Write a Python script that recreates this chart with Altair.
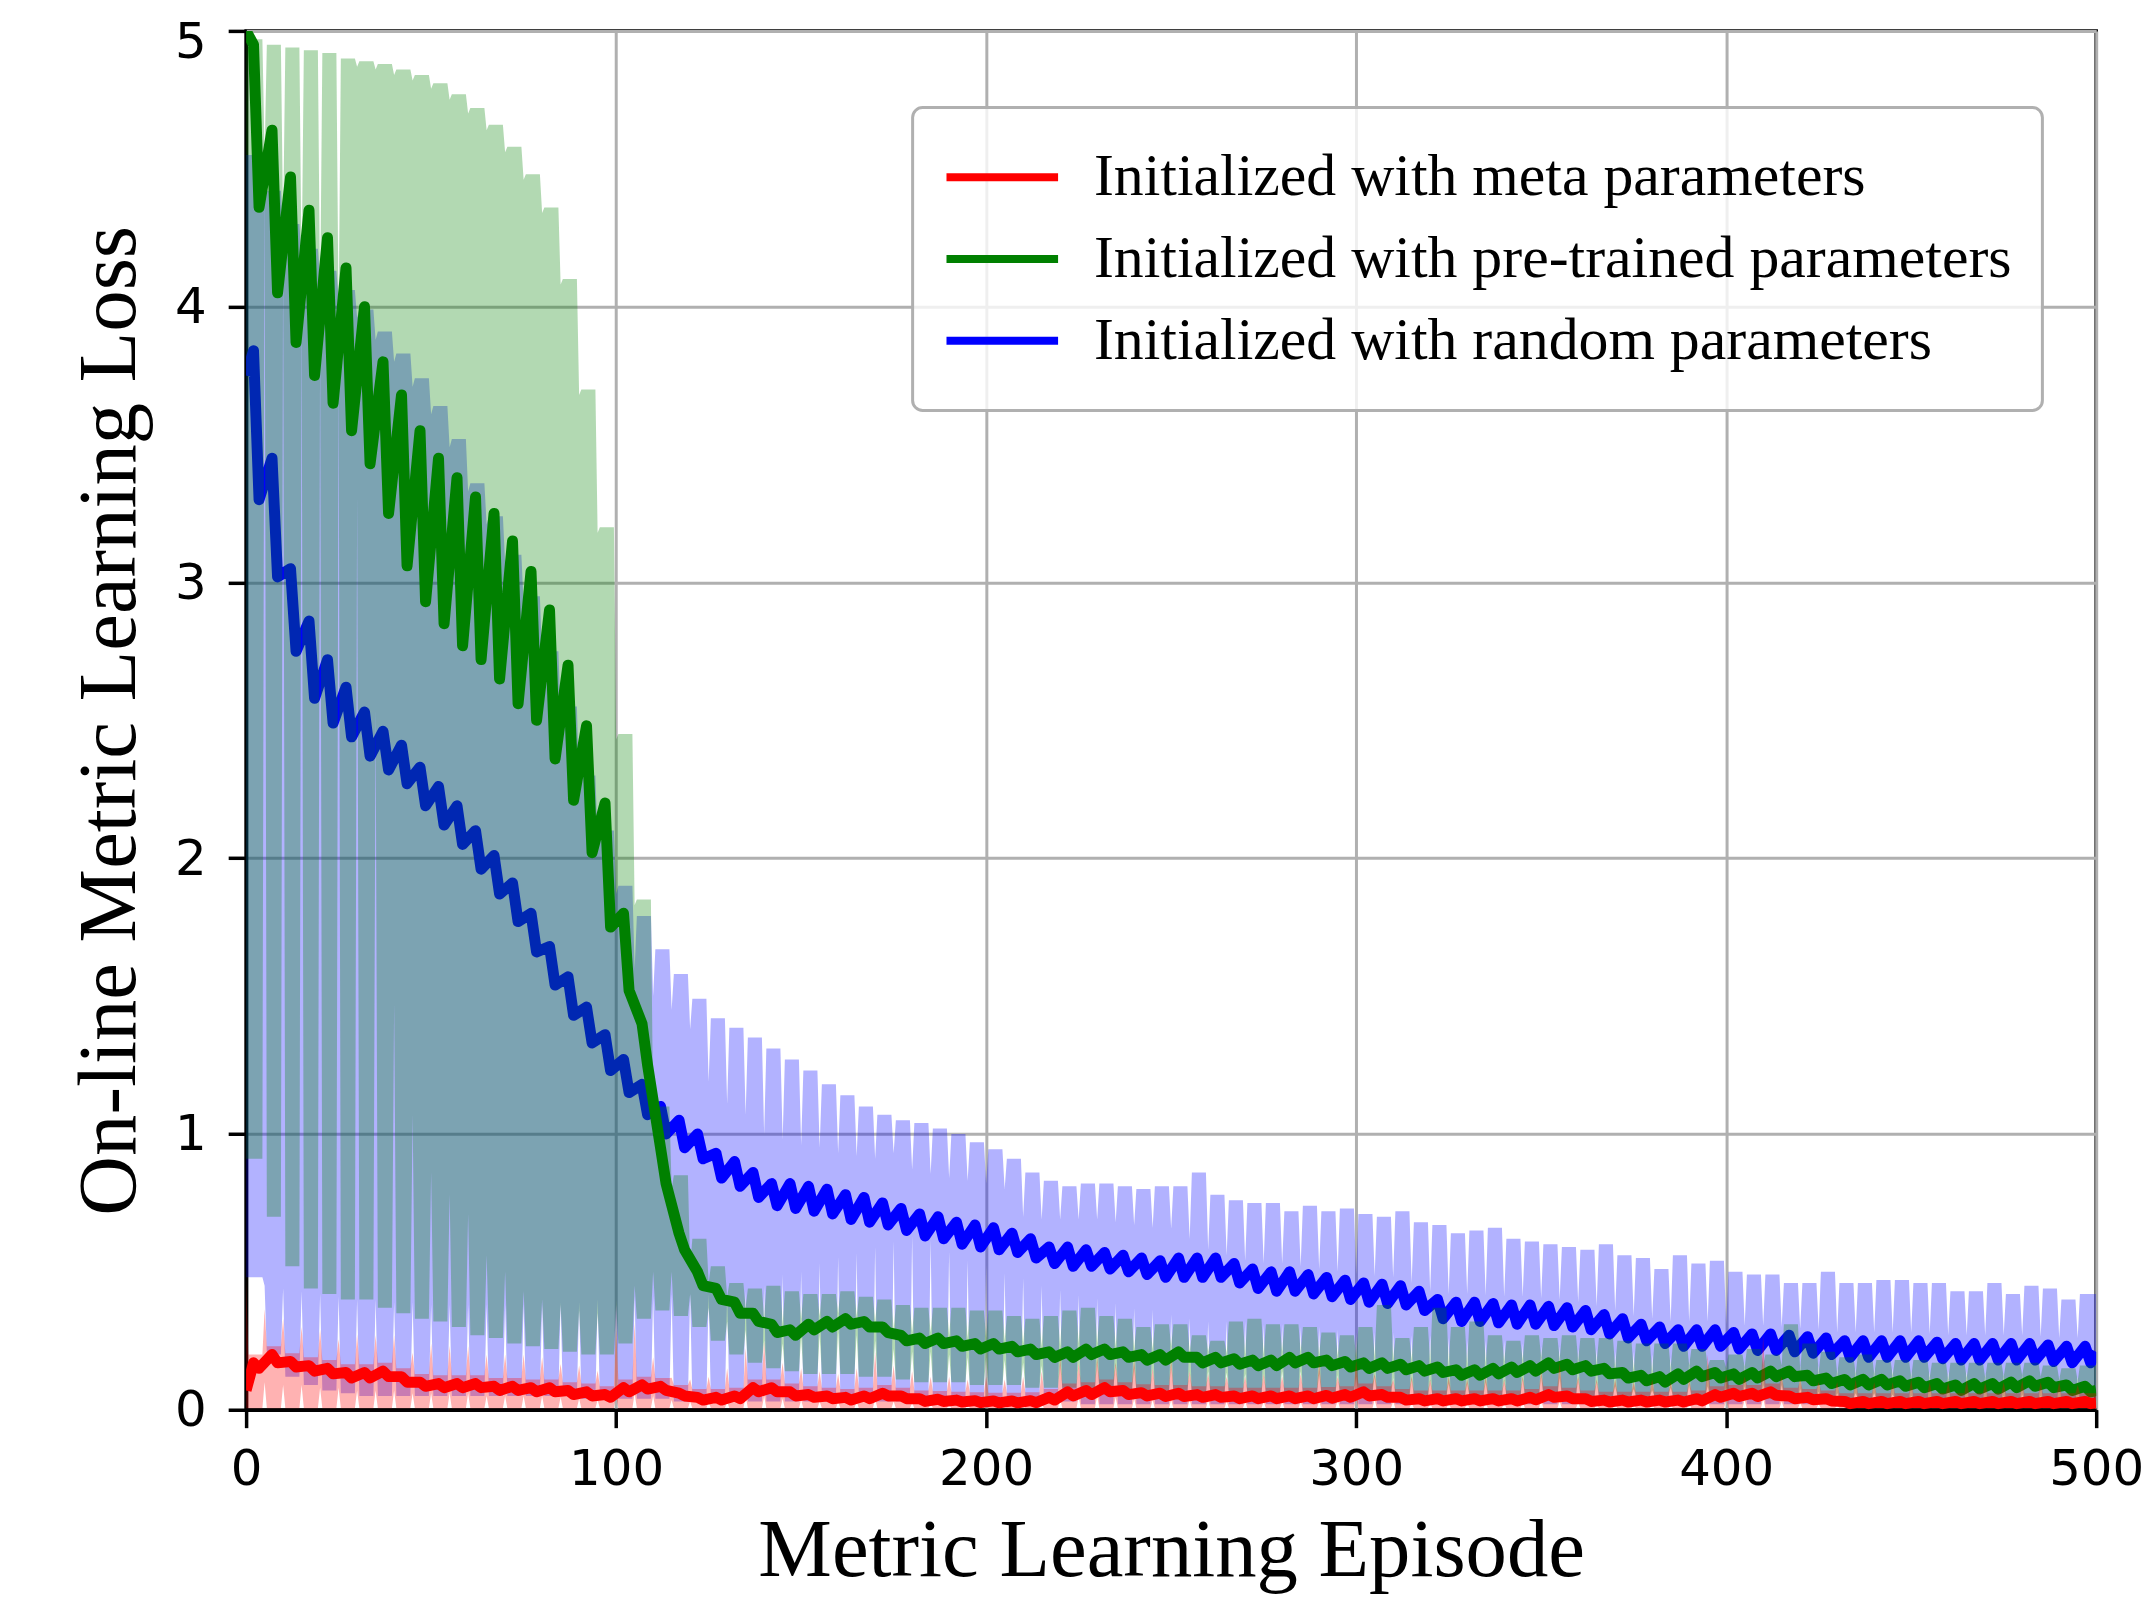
import altair as alt
import pandas as pd

SERIES = ["Initialized with meta parameters",
          "Initialized with pre-trained parameters",
          "Initialized with random parameters"]
COLORS = ["#ff0000", "#008000", "#0000ff"]
X_TICKS = [0, 100, 200, 300, 400, 500]
Y_TICKS = [0, 1, 2, 3, 4, 5]

# Per 5-episode block k: mean peak (ep 5k+2), mean trough (ep 5k+3.5),
# band edge outside the notch (up/lo) and at the notch episode 5k (upn/lon).
BLUE_START, BLUE_END = 3.75, 0.21
BLUE_PK = [3.84, 3.45, 3.05, 2.86, 2.72, 2.62, 2.53, 2.46, 2.41, 2.33,
           2.26, 2.19, 2.10, 2.01, 1.91, 1.80, 1.68, 1.57, 1.46, 1.36,
           1.27, 1.18, 1.10, 1.05, 1.00, 0.93, 0.90, 0.86, 0.82, 0.82,
           0.81, 0.80, 0.78, 0.77, 0.75, 0.73, 0.71, 0.70, 0.68, 0.67,
           0.66, 0.64, 0.62, 0.59, 0.59, 0.58, 0.57, 0.56, 0.55, 0.54,
           0.55, 0.55, 0.55, 0.53, 0.51, 0.50, 0.50, 0.49, 0.48, 0.47,
           0.46, 0.455, 0.45, 0.43, 0.40, 0.39, 0.39, 0.385, 0.38, 0.38,
           0.375, 0.37, 0.36, 0.345, 0.33, 0.31, 0.30, 0.29, 0.29, 0.29,
           0.28, 0.275, 0.275, 0.27, 0.265, 0.26, 0.25, 0.25, 0.25, 0.25,
           0.25, 0.245, 0.24, 0.24, 0.24, 0.24, 0.24, 0.235, 0.23, 0.23]
BLUE_TR = [3.30, 3.02, 2.75, 2.58, 2.49, 2.44, 2.37, 2.32, 2.27, 2.19,
           2.12, 2.05, 1.96, 1.87, 1.77, 1.66, 1.54, 1.43, 1.33, 1.23,
           1.15, 1.07, 1.00, 0.95, 0.91, 0.84, 0.81, 0.77, 0.74, 0.73,
           0.72, 0.71, 0.69, 0.68, 0.67, 0.65, 0.63, 0.62, 0.60, 0.59,
           0.58, 0.57, 0.55, 0.53, 0.52, 0.52, 0.51, 0.50, 0.49, 0.48,
           0.48, 0.48, 0.48, 0.46, 0.44, 0.43, 0.43, 0.42, 0.41, 0.40,
           0.39, 0.385, 0.38, 0.36, 0.33, 0.32, 0.32, 0.315, 0.31, 0.31,
           0.305, 0.30, 0.29, 0.275, 0.26, 0.25, 0.24, 0.23, 0.23, 0.23,
           0.22, 0.215, 0.215, 0.21, 0.205, 0.20, 0.19, 0.19, 0.19, 0.19,
           0.19, 0.185, 0.18, 0.18, 0.18, 0.18, 0.18, 0.175, 0.17, 0.17]
BLUE_UP = [4.55, 4.42, 4.30, 4.21, 4.13, 4.06, 3.99, 3.91, 3.83, 3.74,
           3.64, 3.52, 3.36, 3.24, 3.10, 2.95, 2.75, 2.55, 2.30, 2.10,
           1.90, 1.79, 1.67, 1.58, 1.49, 1.42, 1.385, 1.35, 1.31, 1.27,
           1.23, 1.18, 1.14, 1.10, 1.07, 1.05, 1.04, 1.02, 1.00, 0.97,
           0.945, 0.91, 0.86, 0.83, 0.81, 0.82, 0.82, 0.81, 0.80, 0.81,
           0.81, 0.86, 0.78, 0.76, 0.75, 0.75, 0.72, 0.74, 0.72, 0.73,
           0.71, 0.70, 0.72, 0.68, 0.67, 0.64, 0.65, 0.66, 0.62, 0.61,
           0.60, 0.59, 0.58, 0.60, 0.56, 0.55, 0.51, 0.56, 0.53, 0.54,
           0.50, 0.49, 0.49, 0.46, 0.46, 0.50, 0.46, 0.46, 0.47, 0.47,
           0.46, 0.46, 0.43, 0.43, 0.46, 0.42, 0.45, 0.44, 0.40, 0.42]
BLUE_UPN = [4.55, 4.39, 4.27, 4.18, 4.10, 4.03, 3.96, 3.88, 3.80, 3.71,
            3.61, 3.49, 3.33, 3.21, 3.07, 2.92, 2.72, 2.52, 2.27, 2.07,
            1.87, 1.60, 1.50, 1.45, 1.38, 1.19, 1.11, 1.07, 1.00, 0.98,
            0.96, 0.95, 0.93, 0.92, 0.91, 0.93, 0.87, 0.856, 0.84, 0.83,
            0.82, 0.80, 0.70, 0.69, 0.69, 0.69, 0.69, 0.68, 0.67, 0.66,
            0.656, 0.62, 0.58, 0.56, 0.54, 0.53, 0.53, 0.52, 0.51, 0.50,
            0.49, 0.485, 0.48, 0.46, 0.43, 0.42, 0.42, 0.415, 0.41, 0.41,
            0.405, 0.40, 0.39, 0.375, 0.36, 0.34, 0.33, 0.32, 0.32, 0.32,
            0.31, 0.305, 0.305, 0.30, 0.295, 0.29, 0.28, 0.28, 0.28, 0.28,
            0.28, 0.275, 0.27, 0.27, 0.27, 0.27, 0.27, 0.265, 0.26, 0.26]
BLUE_LO = [0.48, 0.20, 0.12, 0.09, 0.07, 0.06, 0.05, 0.05, 0.05, 0.05,
           0.05, 0.05, 0.05, 0.05, 0.05, 0.05, 0.05, 0.05, 0.04, 0.04,
           0.04, 0.04, 0.04, 0.03, 0.03, 0.03, 0.03, 0.03, 0.03, 0.03,
           0.03, 0.03, 0.03, 0.03, 0.03, 0.03, 0.03, 0.03, 0.03, 0.03,
           0.03, 0.03, 0.03, 0.03, 0.03, 0.02, 0.02, 0.02, 0.02, 0.02,
           0.02, 0.02, 0.02, 0.02, 0.02, 0.02, 0.02, 0.02, 0.02, 0.02,
           0.02, 0.02, 0.02, 0.02, 0.02, 0.02, 0.02, 0.02, 0.02, 0.02,
           0.02, 0.02, 0.02, 0.02, 0.02, 0.02, 0.02, 0.02, 0.02, 0.02,
           0.02, 0.02, 0.02, 0.02, 0.02, 0.02, 0.02, 0.02, 0.02, 0.02,
           0.02, 0.02, 0.02, 0.02, 0.02, 0.02, 0.02, 0.02, 0.02, 0.02]
BLUE_LON = [0.48, 0.45, 0.44, 0.43, 0.42, 0.41, 0.40, 0.40, 0.39, 0.39,
            0.38, 0.38, 0.38, 0.38, 0.38, 0.38, 0.38, 0.39, 0.39, 0.40,
            0.40, 0.41, 0.41, 0.42, 0.42, 0.42, 0.42, 0.43, 0.45, 0.49,
            0.50, 0.53, 0.555, 0.567, 0.59, 0.61, 0.63, 0.615, 0.573, 0.54,
            0.525, 0.495, 0.476, 0.45, 0.434, 0.416, 0.404, 0.386, 0.368, 0.362,
            0.344, 0.332, 0.32, 0.32, 0.32, 0.31, 0.31, 0.30, 0.30, 0.29,
            0.28, 0.28, 0.28, 0.27, 0.27, 0.26, 0.25, 0.25, 0.25, 0.24,
            0.23, 0.23, 0.22, 0.22, 0.21, 0.21, 0.20, 0.19, 0.18, 0.18,
            0.17, 0.17, 0.17, 0.16, 0.16, 0.16, 0.15, 0.15, 0.15, 0.15,
            0.14, 0.14, 0.14, 0.14, 0.13, 0.13, 0.13, 0.12, 0.12, 0.12]

GREEN_START, GREEN_END = 5.0, 0.07
GREEN_PK = [4.95, 4.64, 4.47, 4.35, 4.25, 4.14, 4.00, 3.80, 3.68, 3.55,
            3.45, 3.38, 3.31, 3.25, 3.15, 3.04, 2.90, 2.70, 2.48, 2.20,
            1.80, 1.40, 0.95, 0.64, 0.50, 0.44, 0.39, 0.35, 0.31, 0.29,
            0.31, 0.32, 0.33, 0.32, 0.30, 0.27, 0.26, 0.26, 0.25, 0.24,
            0.24, 0.23, 0.22, 0.21, 0.21, 0.22, 0.22, 0.21, 0.20, 0.20,
            0.21, 0.19, 0.19, 0.185, 0.18, 0.18, 0.19, 0.19, 0.18, 0.175,
            0.17, 0.17, 0.165, 0.16, 0.155, 0.145, 0.145, 0.15, 0.155, 0.16,
            0.17, 0.165, 0.16, 0.15, 0.135, 0.125, 0.12, 0.13, 0.14, 0.135,
            0.13, 0.135, 0.14, 0.14, 0.125, 0.115, 0.11, 0.11, 0.11, 0.105,
            0.10, 0.095, 0.09, 0.095, 0.095, 0.10, 0.105, 0.10, 0.09, 0.085]
GREEN_TR = [4.36, 4.05, 3.87, 3.75, 3.65, 3.55, 3.43, 3.25, 3.06, 2.93,
            2.85, 2.77, 2.72, 2.65, 2.56, 2.50, 2.36, 2.21, 2.02, 1.75,
            1.52, 1.25, 0.82, 0.58, 0.45, 0.40, 0.35, 0.32, 0.28, 0.27,
            0.29, 0.30, 0.31, 0.30, 0.28, 0.25, 0.24, 0.24, 0.23, 0.22,
            0.22, 0.21, 0.20, 0.19, 0.19, 0.20, 0.20, 0.19, 0.18, 0.18,
            0.19, 0.17, 0.17, 0.165, 0.16, 0.16, 0.17, 0.17, 0.16, 0.155,
            0.15, 0.15, 0.145, 0.14, 0.135, 0.125, 0.125, 0.13, 0.135, 0.14,
            0.15, 0.145, 0.14, 0.13, 0.115, 0.105, 0.10, 0.11, 0.12, 0.115,
            0.11, 0.115, 0.12, 0.12, 0.105, 0.095, 0.09, 0.09, 0.09, 0.085,
            0.08, 0.075, 0.07, 0.075, 0.075, 0.08, 0.085, 0.08, 0.07, 0.065]
GREEN_UP = [4.97, 4.95, 4.94, 4.93, 4.92, 4.90, 4.89, 4.88, 4.86, 4.84,
            4.81, 4.77, 4.72, 4.66, 4.58, 4.48, 4.36, 4.10, 3.70, 3.20,
            2.45, 1.85, 1.10, 0.85, 0.62, 0.52, 0.46, 0.44, 0.45, 0.43,
            0.42, 0.42, 0.43, 0.41, 0.40, 0.38, 0.37, 0.37, 0.37, 0.36,
            0.36, 0.34, 0.33, 0.34, 0.36, 0.37, 0.34, 0.33, 0.30, 0.31,
            0.31, 0.27, 0.25, 0.32, 0.33, 0.31, 0.31, 0.30, 0.28, 0.27,
            0.30, 0.38, 0.26, 0.30, 0.37, 0.30, 0.32, 0.27, 0.25, 0.27,
            0.26, 0.27, 0.26, 0.26, 0.25, 0.24, 0.24, 0.24, 0.22, 0.18,
            0.20, 0.22, 0.20, 0.31, 0.24, 0.21, 0.19, 0.20, 0.18, 0.18,
            0.18, 0.17, 0.17, 0.17, 0.17, 0.17, 0.17, 0.16, 0.15, 0.16]
GREEN_UPN = [4.97, 4.55, 4.30, 4.13, 4.01, 3.95, 4.87, 4.86, 4.84, 4.82,
             4.79, 4.75, 4.70, 4.64, 4.56, 4.46, 4.34, 4.08, 3.68, 3.18,
             2.43, 1.83, 1.08, 0.80, 0.52, 0.46, 0.41, 0.37, 0.33, 0.31,
             0.33, 0.34, 0.35, 0.34, 0.32, 0.29, 0.28, 0.28, 0.27, 0.26,
             0.26, 0.25, 0.24, 0.23, 0.23, 0.24, 0.24, 0.23, 0.22, 0.22,
             0.23, 0.21, 0.21, 0.205, 0.20, 0.20, 0.21, 0.21, 0.20, 0.195,
             0.19, 0.19, 0.185, 0.18, 0.175, 0.165, 0.165, 0.17, 0.175, 0.18,
             0.19, 0.185, 0.18, 0.17, 0.155, 0.145, 0.14, 0.15, 0.16, 0.155,
             0.15, 0.155, 0.16, 0.16, 0.145, 0.135, 0.13, 0.13, 0.13, 0.125,
             0.12, 0.115, 0.11, 0.115, 0.115, 0.12, 0.125, 0.12, 0.11, 0.105]
GREEN_LO = [0.91, 0.70, 0.52, 0.44, 0.42, 0.40, 0.40, 0.37, 0.35, 0.33,
            0.32, 0.30, 0.27, 0.26, 0.24, 0.23, 0.22, 0.21, 0.20, 0.20,
            0.24, 0.33, 0.36, 0.34, 0.30, 0.25, 0.20, 0.17, 0.15, 0.14,
            0.13, 0.13, 0.13, 0.12, 0.12, 0.11, 0.10, 0.10, 0.10, 0.09,
            0.09, 0.09, 0.08, 0.08, 0.08, 0.08, 0.08, 0.07, 0.07, 0.07,
            0.07, 0.06, 0.06, 0.06, 0.06, 0.06, 0.06, 0.06, 0.06, 0.06,
            0.06, 0.05, 0.05, 0.05, 0.05, 0.05, 0.05, 0.05, 0.05, 0.05,
            0.05, 0.05, 0.05, 0.05, 0.05, 0.05, 0.05, 0.05, 0.05, 0.05,
            0.05, 0.04, 0.04, 0.04, 0.04, 0.04, 0.04, 0.04, 0.04, 0.04,
            0.04, 0.04, 0.03, 0.03, 0.03, 0.03, 0.03, 0.03, 0.03, 0.03]
GREEN_LON = [0.91, 4.45, 4.20, 4.03, 3.91, 3.80, 3.31, 2.54, 1.47, 1.07,
             0.86, 0.78, 0.71, 0.56, 0.50, 0.43, 0.40, 0.38, 0.36, 0.35,
             0.38, 0.45, 0.50, 0.50, 0.42, 0.37, 0.32, 0.29, 0.25, 0.24,
             0.26, 0.27, 0.28, 0.27, 0.25, 0.22, 0.21, 0.21, 0.20, 0.19,
             0.19, 0.18, 0.17, 0.16, 0.16, 0.17, 0.17, 0.16, 0.15, 0.15,
             0.16, 0.14, 0.14, 0.135, 0.13, 0.13, 0.14, 0.14, 0.13, 0.125,
             0.12, 0.12, 0.115, 0.11, 0.105, 0.095, 0.095, 0.10, 0.105, 0.11,
             0.12, 0.115, 0.11, 0.10, 0.085, 0.075, 0.07, 0.08, 0.09, 0.085,
             0.08, 0.085, 0.09, 0.09, 0.075, 0.065, 0.06, 0.06, 0.06, 0.055,
             0.05, 0.045, 0.04, 0.045, 0.045, 0.05, 0.055, 0.05, 0.04, 0.035]

RED_START, RED_END = 0.07, 0.025
RED_PK = [0.17, 0.20, 0.175, 0.16, 0.15, 0.135, 0.135, 0.14, 0.12, 0.10,
          0.095, 0.095, 0.095, 0.085, 0.085, 0.08, 0.08, 0.07, 0.065, 0.055,
          0.08, 0.09, 0.085, 0.06, 0.045, 0.045, 0.05, 0.08, 0.08, 0.065,
          0.055, 0.05, 0.045, 0.05, 0.06, 0.05, 0.04, 0.038, 0.035, 0.033,
          0.032, 0.032, 0.033, 0.045, 0.065, 0.07, 0.08, 0.07, 0.062, 0.06,
          0.06, 0.055, 0.055, 0.05, 0.05, 0.05, 0.05, 0.05, 0.052, 0.055,
          0.065, 0.055, 0.045, 0.04, 0.04, 0.04, 0.04, 0.04, 0.04, 0.045,
          0.055, 0.05, 0.04, 0.035, 0.035, 0.035, 0.035, 0.035, 0.04, 0.055,
          0.06, 0.06, 0.065, 0.05, 0.045, 0.04, 0.03, 0.03, 0.03, 0.03,
          0.03, 0.03, 0.03, 0.03, 0.03, 0.03, 0.03, 0.03, 0.03, 0.03]
RED_TR = [0.15, 0.17, 0.155, 0.14, 0.13, 0.115, 0.115, 0.12, 0.10, 0.085,
          0.08, 0.08, 0.08, 0.07, 0.07, 0.065, 0.065, 0.055, 0.05, 0.045,
          0.065, 0.075, 0.07, 0.05, 0.035, 0.035, 0.04, 0.065, 0.065, 0.05,
          0.045, 0.04, 0.035, 0.04, 0.05, 0.04, 0.03, 0.03, 0.028, 0.026,
          0.025, 0.025, 0.026, 0.035, 0.05, 0.055, 0.065, 0.055, 0.05, 0.048,
          0.048, 0.045, 0.045, 0.04, 0.04, 0.04, 0.04, 0.04, 0.042, 0.045,
          0.05, 0.045, 0.035, 0.032, 0.032, 0.032, 0.032, 0.032, 0.032, 0.036,
          0.045, 0.04, 0.03, 0.028, 0.028, 0.028, 0.028, 0.028, 0.032, 0.045,
          0.048, 0.048, 0.052, 0.04, 0.036, 0.032, 0.022, 0.022, 0.022, 0.022,
          0.022, 0.022, 0.022, 0.022, 0.022, 0.022, 0.022, 0.022, 0.022, 0.022]
RED_UP = [0.20, 0.23, 0.205, 0.19, 0.18, 0.165, 0.165, 0.17, 0.15, 0.13,
          0.125, 0.125, 0.125, 0.115, 0.115, 0.11, 0.11, 0.10, 0.095, 0.085,
          0.11, 0.12, 0.115, 0.09, 0.075, 0.075, 0.08, 0.11, 0.11, 0.095,
          0.085, 0.08, 0.075, 0.08, 0.09, 0.08, 0.07, 0.068, 0.065, 0.063,
          0.062, 0.062, 0.063, 0.075, 0.095, 0.10, 0.11, 0.10, 0.092, 0.09,
          0.09, 0.085, 0.085, 0.08, 0.08, 0.08, 0.08, 0.08, 0.082, 0.085,
          0.095, 0.085, 0.075, 0.07, 0.07, 0.07, 0.07, 0.07, 0.07, 0.075,
          0.085, 0.08, 0.07, 0.065, 0.065, 0.065, 0.065, 0.065, 0.07, 0.085,
          0.09, 0.09, 0.095, 0.08, 0.075, 0.07, 0.06, 0.06, 0.06, 0.06,
          0.06, 0.06, 0.06, 0.06, 0.06, 0.06, 0.06, 0.06, 0.06, 0.06]
RED_UPN = [0.47, 0.365, 0.33, 0.30, 0.29, 0.256, 0.273, 0.27, 0.27, 0.207,
           0.24, 0.232, 0.23, 0.199, 0.20, 0.20, 0.19, 0.166, 0.16, 0.141,
           0.29, 0.315, 0.19, 0.116, 0.11, 0.12, 0.15, 0.223, 0.247, 0.17,
           0.15, 0.14, 0.13, 0.15, 0.21, 0.16, 0.14, 0.12, 0.12, 0.11,
           0.12, 0.11, 0.12, 0.14, 0.19, 0.17, 0.19, 0.17, 0.18, 0.15,
           0.18, 0.14, 0.13, 0.12, 0.12, 0.13, 0.12, 0.13, 0.17, 0.12,
           0.18, 0.13, 0.11, 0.12, 0.11, 0.12, 0.11, 0.12, 0.11, 0.12,
           0.14, 0.17, 0.12, 0.11, 0.11, 0.10, 0.11, 0.10, 0.11, 0.20,
           0.13, 0.12, 0.27, 0.12, 0.11, 0.10, 0.10, 0.11, 0.10, 0.10,
           0.11, 0.10, 0.10, 0.11, 0.10, 0.10, 0.11, 0.10, 0.10, 0.09]
RED_LO = [0.005, 0.005, 0.005, 0.005, 0.005, 0.005, 0.005, 0.005, 0.005, 0.005,
          0.005, 0.005, 0.005, 0.005, 0.005, 0.005, 0.005, 0.005, 0.005, 0.005,
          0.005, 0.005, 0.005, 0.005, 0.005, 0.005, 0.005, 0.005, 0.005, 0.005,
          0.005, 0.005, 0.005, 0.005, 0.005, 0.005, 0.005, 0.005, 0.005, 0.005,
          0.005, 0.005, 0.005, 0.005, 0.005, 0.005, 0.005, 0.005, 0.005, 0.005,
          0.005, 0.005, 0.005, 0.005, 0.005, 0.005, 0.005, 0.005, 0.005, 0.005,
          0.005, 0.005, 0.005, 0.005, 0.005, 0.005, 0.005, 0.005, 0.005, 0.005,
          0.005, 0.005, 0.005, 0.005, 0.005, 0.005, 0.005, 0.005, 0.005, 0.005,
          0.005, 0.005, 0.005, 0.005, 0.005, 0.005, 0.005, 0.005, 0.005, 0.005,
          0.005, 0.005, 0.005, 0.005, 0.005, 0.005, 0.005, 0.005, 0.005, 0.005]
RED_LON = [0.005, 0.10, 0.09, 0.09, 0.08, 0.08, 0.07, 0.07, 0.07, 0.06,
           0.06, 0.06, 0.06, 0.05, 0.05, 0.05, 0.05, 0.045, 0.04, 0.035,
           0.05, 0.06, 0.05, 0.035, 0.03, 0.03, 0.03, 0.05, 0.05, 0.04,
           0.035, 0.03, 0.03, 0.03, 0.04, 0.03, 0.025, 0.025, 0.02, 0.02,
           0.02, 0.02, 0.02, 0.025, 0.04, 0.045, 0.05, 0.045, 0.04, 0.035,
           0.035, 0.035, 0.035, 0.03, 0.03, 0.03, 0.03, 0.03, 0.03, 0.035,
           0.04, 0.035, 0.03, 0.025, 0.025, 0.025, 0.025, 0.025, 0.025, 0.03,
           0.035, 0.03, 0.025, 0.02, 0.02, 0.02, 0.02, 0.02, 0.025, 0.035,
           0.035, 0.035, 0.04, 0.03, 0.025, 0.02, 0.015, 0.015, 0.015, 0.015,
           0.015, 0.015, 0.015, 0.015, 0.015, 0.015, 0.015, 0.015, 0.015, 0.015]

H = 0.6  # half width of the notch, in episodes


def line_df(name, start, pk, tr, end):
    xs, ys = [0.0], [start]
    for k in range(len(pk)):
        xs += [5 * k + 2.0, 5 * k + 3.5]
        ys += [pk[k], tr[k]]
    xs.append(500.0)
    ys.append(end)
    return pd.DataFrame({"x": xs, "y": ys, "series": name})


def band_df(up, upn, lo, lon):
    xs, hi, low = [], [], []
    for k in range(len(up)):
        if k > 0:
            xs.append(5 * k - H); hi.append(up[k - 1]); low.append(lo[k - 1])
        xs.append(5.0 * k); hi.append(upn[k]); low.append(lon[k])
        xs.append(5 * k + H); hi.append(up[k]); low.append(lo[k])
    xs.append(500.0); hi.append(up[-1]); low.append(lo[-1])
    return pd.DataFrame({"x": xs, "hi": hi, "lo": low})


X_AXIS = alt.Axis(values=X_TICKS, format="d", title="Metric Learning Episode",
                  labelPadding=17, titleY=166, titleBaseline="alphabetic")
Y_AXIS = alt.Axis(values=Y_TICKS, format="d", title="On-line Metric Learning Loss",
                  labelPadding=22,
                  labelOffset={"condition": {"test": "datum.value == 5", "value": 12},
                               "value": 1},
                  titleX=-112, titleY=692, titleBaseline="alphabetic")
XS = alt.Scale(domain=[0, 500], nice=False, zero=False)
YS = alt.Scale(domain=[0, 5], nice=False, zero=False)

LEGEND = alt.Legend(title=None, orient="none", legendX=669, legendY=77,
                    symbolType="stroke", symbolStrokeWidth=8, symbolSize=12544,
                    labelFont="Liberation Serif", labelFontSize=60, labelColor="black",
                    labelLimit=3000, labelOffset=32, rowPadding=2, clipHeight=80)
COLOR = alt.Color("series:N", scale=alt.Scale(domain=SERIES, range=COLORS), legend=LEGEND)


def area_layer(df, color):
    return alt.Chart(df).mark_area(color=color, opacity=0.3, clip=True).encode(
        x=alt.X("x:Q", scale=XS, axis=X_AXIS),
        y=alt.Y("hi:Q", scale=YS, axis=Y_AXIS),
        y2="lo:Q",
    )


def line_layer(df):
    return alt.Chart(df).mark_line(strokeWidth=11, strokeJoin="round", clip=True).encode(
        x=alt.X("x:Q", scale=XS, axis=X_AXIS),
        y=alt.Y("y:Q", scale=YS, axis=Y_AXIS),
        color=COLOR,
    )


layers = [
    area_layer(band_df(BLUE_UP, BLUE_UPN, BLUE_LO, BLUE_LON), COLORS[2]),
    line_layer(line_df(SERIES[2], BLUE_START, BLUE_PK, BLUE_TR, BLUE_END)),
    area_layer(band_df(GREEN_UP, GREEN_UPN, GREEN_LO, GREEN_LON), COLORS[1]),
    line_layer(line_df(SERIES[1], GREEN_START, GREEN_PK, GREEN_TR, GREEN_END)),
    area_layer(band_df(RED_UP, RED_UPN, RED_LO, RED_LON), COLORS[0]),
    line_layer(line_df(SERIES[0], RED_START, RED_PK, RED_TR, RED_END)),
]

chart = alt.layer(*layers).properties(
    width=1857, height=1384,
    autosize=alt.AutoSizeParams(type="none"),
    padding={"left": 239, "top": 20, "right": 52, "bottom": 188},
    background="white",
).configure_view(
    stroke="black", strokeWidth=3.5
).configure_axis(
    labelFont="DejaVu Sans", labelFontSize=50, labelColor="black",
    tickColor="black", tickSize=18, tickWidth=3.5,
    domainColor="black", domainWidth=3.5,
    grid=True, gridColor="#b0b0b0", gridWidth=3,
    titleFont="Liberation Serif", titleFontSize=83, titleFontWeight="normal",
    titleColor="black", labelFlush=False,
).configure_legend(
    fillColor="rgba(255,255,255,0.8)", strokeColor="#b0b0b0", strokeWidth=3,
    cornerRadius=10, padding=30,
)

chart.save("out.html", embed_options={"renderer": "svg", "actions": False})
